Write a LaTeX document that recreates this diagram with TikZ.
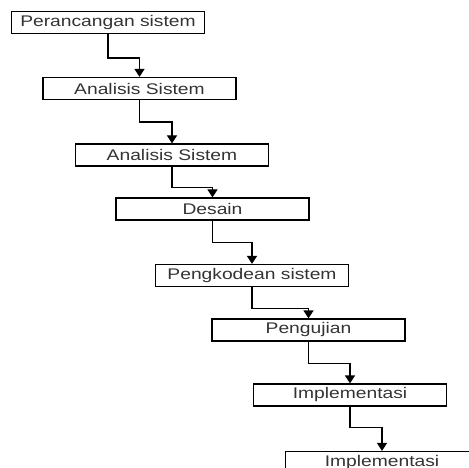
\documentclass[tikz,border=0pt]{standalone}
\usepackage{fontspec}
\setmainfont{Liberation Sans}
\newfontfamily\boxfont[FakeStretch=1.25]{Liberation Sans}
\usetikzlibrary{arrows.meta}
\begin{document}
\begin{tikzpicture}[
        x=1pt, y=1pt,
        stage/.style={rectangle, draw=black, line width=1.2pt, minimum width=193pt, minimum height=22pt, inner sep=0pt, text=black!80, font=\boxfont\fontsize{15.4}{18}\selectfont},
        arrow/.style={-{Triangle[width=10pt,length=8pt]}, black, line width=1.2pt}
    ]
    \clip (0,0) rectangle (469,-468);
    % Nodes
    \node[stage] (s1) at (108,-22.5) {Perancangan sistem};
    \node[stage] (s2) at (139.5,-88.5) {Analisis Sistem};
    \node[stage] (s3) at (172,-155) {Analisis Sistem};
    \node[stage] (s4) at (212.5,-209) {Desain};
    \node[stage] (s5) at (252,-275.5) {Pengkodean sistem};
    \node[stage] (s6) at (308.5,-330) {Pengujian};
    \node[stage] (s7) at (350,-395) {Implementasi};
    \node[stage] (s8) at (382,-462.5) {Implementasi};
    % Edges
    \draw[arrow] (s1.south) -- ++(0,-24) -| (s2.north);
    \draw[arrow] (s2.south) -- ++(0,-22) -| (s3.north);
    \draw[arrow] (s3.south) -- ++(0,-21) -| (s4.north);
    \draw[arrow] (s4.south) -- ++(0,-22) -| (s5.north);
    \draw[arrow] (s5.south) -- ++(0,-21) -| (s6.north);
    \draw[arrow] (s6.south) -- ++(0,-22) -| (s7.north);
    \draw[arrow] (s7.south) -- ++(0,-21) -| (s8.north);
\end{tikzpicture}
\end{document}
